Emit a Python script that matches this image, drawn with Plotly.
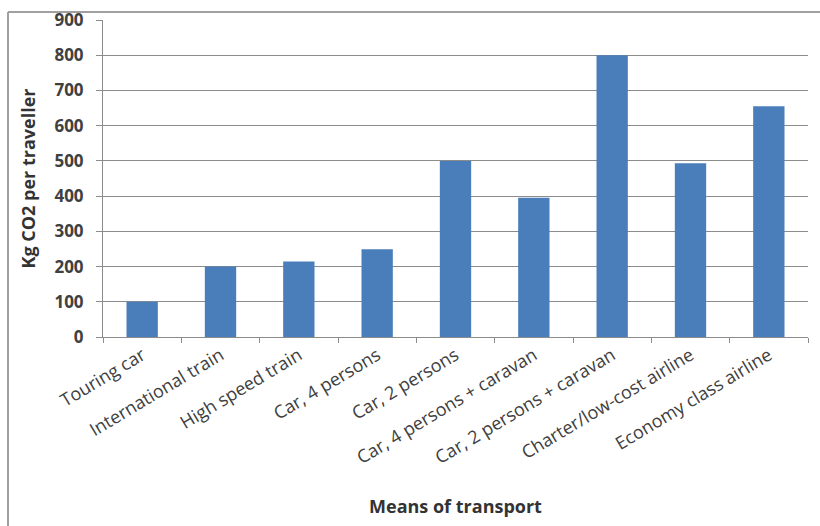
import plotly.graph_objects as go

categories = ["Touring car", "International train", "High speed train", "Car, 4 persons",
              "Car, 2 persons", "Car, 4 persons + caravan", "Car, 2 persons + caravan",
              "Charter/low-cost airline", "Economy class airline"]
values = [100, 200, 214, 249, 500, 395, 800, 493, 655]
y_ticks = [0, 100, 200, 300, 400, 500, 600, 700, 800, 900]

L, R, T, B = 103, 12, 20, 189
W, H = 820, 526
pw, ph = W - L - R, H - T - B

def px(x):
    return (x - L) / pw

def py(y):
    return (H - B - y) / ph

fig = go.Figure(go.Bar(x=categories, y=values, marker=dict(color="#4a7ebb", line=dict(width=0))))

font_family = "Open Sans, Liberation Sans, sans-serif"
fig.update_layout(
    width=W, height=H,
    margin=dict(l=L, r=R, t=T, b=B, autoexpand=False),
    paper_bgcolor="white", plot_bgcolor="white",
    bargap=0.6,
    showlegend=False,
    font=dict(family=font_family, color="#404040"),
    xaxis=dict(
        tickangle=-31, tickfont=dict(size=18, color="#404040"),
        showline=True, linecolor="#8c8c8c", linewidth=1,
        ticks="outside", ticklen=5, tickcolor="#8c8c8c", tickson="boundaries",
        showgrid=False,
        title=dict(text="<b>Means of transport</b>", font=dict(size=18, color="#333333"), standoff=32),
    ),
    yaxis=dict(
        range=[0, 900], tickvals=y_ticks, ticktext=[f"<b>{v}</b>" for v in y_ticks],
        tickfont=dict(size=17, color="#404040"),
        showline=True, linecolor="#8c8c8c", linewidth=1,
        ticks="outside", ticklen=6, tickcolor="#8c8c8c", ticklabelstandoff=9,
        showgrid=True, gridcolor="#8c8c8c", gridwidth=1,
        zeroline=False,
        title=dict(text="<b>Kg CO2 per traveller</b>", font=dict(size=18, color="#333333"), standoff=14),
    ),
    shapes=[
        dict(type="line", xref="paper", yref="paper", x0=px(8), x1=px(820), y0=py(12), y1=py(12),
             line=dict(color="#a0a0a0", width=2)),
        dict(type="line", xref="paper", yref="paper", x0=px(8), x1=px(8), y0=py(12), y1=py(526),
             line=dict(color="#a0a0a0", width=2)),
    ],
)

fig.write_html("out.html")
